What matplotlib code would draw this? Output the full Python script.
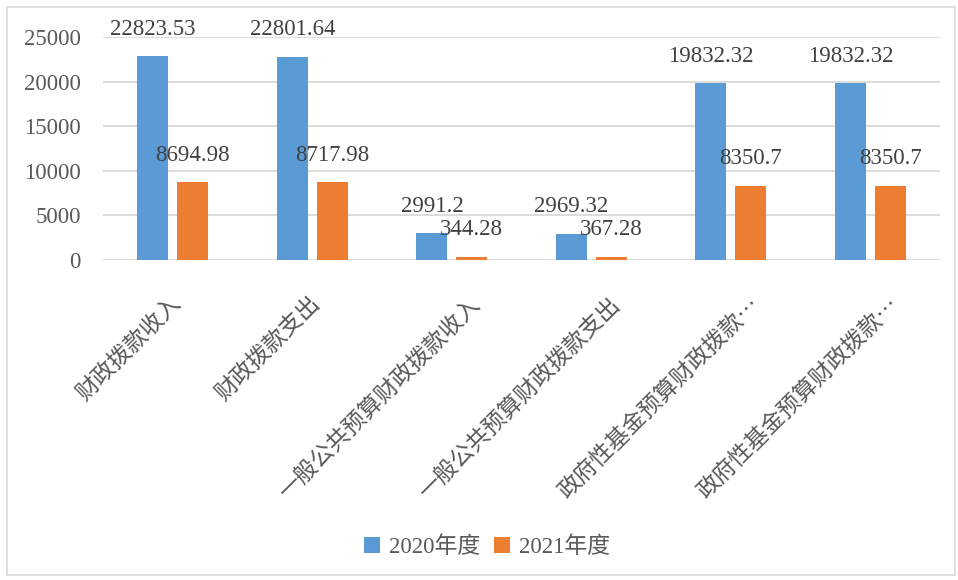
import numpy as np
import matplotlib
matplotlib.use("Agg")
import matplotlib.pyplot as plt
from matplotlib.patches import Rectangle

plt.rcParams['font.family'] = ['Liberation Serif', 'Noto Sans CJK SC', 'DejaVu Sans']

# data
categories = ["财政拨款收入", "财政拨款支出", "一般公共预算财政拨款收入",
              "一般公共预算财政拨款支出", "政府性基金预算财政拨款⋯", "政府性基金预算财政拨款⋯"]
series_names = ["2020年度", "2021年度"]
values_2020 = [22823.53, 22801.64, 2991.2, 2969.32, 19832.32, 19832.32]
values_2021 = [8694.98, 8717.98, 344.28, 367.28, 8350.7, 8350.7]
value_labels_2020 = ["22823.53", "22801.64", "2991.2", "2969.32", "19832.32", "19832.32"]
value_labels_2021 = ["8694.98", "8717.98", "344.28", "367.28", "8350.7", "8350.7"]
y_ticks = [0, 5000, 10000, 15000, 20000, 25000]

BLUE = "#5B9BD5"
ORANGE = "#ED7D31"
TXT = "#595959"
GRID = "#D9D9D9"
FS = 16.5

fig = plt.figure(figsize=(9.58, 5.8), dpi=100)
fig.patches.append(Rectangle((7/958, 5/580), 948/958, 568/580, transform=fig.transFigure,
                             fill=False, edgecolor=GRID, linewidth=1.2))
ax = fig.add_axes([103/958, 1-260/580, (940-103)/958, (260-37)/580])

x = np.arange(len(categories))
w = 0.222
off = 0.142
b1 = ax.bar(x - off, values_2020, w, color=BLUE, label=series_names[0], zorder=3)
b2 = ax.bar(x + off, values_2021, w, color=ORANGE, label=series_names[1], zorder=3)

# data labels
for xs, vals, labs in ((x - off, values_2020, value_labels_2020), (x + off, values_2021, value_labels_2021)):
    for xi, v, lab in zip(xs, vals, labs):
        ax.annotate(lab, xy=(xi, v), xytext=(0, 27), textcoords='offset pixels',
                    ha='center', va='center', fontsize=FS, color="#404040", zorder=4)

ax.set_xlim(-0.5, len(categories) - 0.5)
ax.set_ylim(0, 25000)
ax.set_yticks(y_ticks)
ax.set_yticklabels([str(t) for t in y_ticks], fontsize=FS, color=TXT)
ax.tick_params(axis='y', length=0, pad=16)
ax.set_xticks([])
ax.grid(axis='y', color=GRID, linewidth=1.3, zorder=0)
for s in ax.spines.values():
    s.set_visible(False)

# rotated category labels
for i, lab in enumerate(categories):
    dx = 3.5 * (len(lab) - 6) - 3
    ax.annotate(lab, xy=(i, 0), xycoords=('data', 'axes fraction'),
                xytext=(dx, -33), textcoords='offset pixels',
                ha='right', va='top', rotation=45, rotation_mode='anchor',
                fontsize=FS, color=TXT, fontweight='light')

fig.legend(handles=[b1, b2], labels=series_names, loc='center',
           bbox_to_anchor=(487/958, 1-547/580), ncol=2, frameon=False,
           prop={'size': FS, 'weight': 'light'}, labelcolor=TXT,
           handlelength=0.7, handleheight=0.7,
           handletextpad=0.4, columnspacing=0.6)

fig.savefig("out.png", dpi=100)
